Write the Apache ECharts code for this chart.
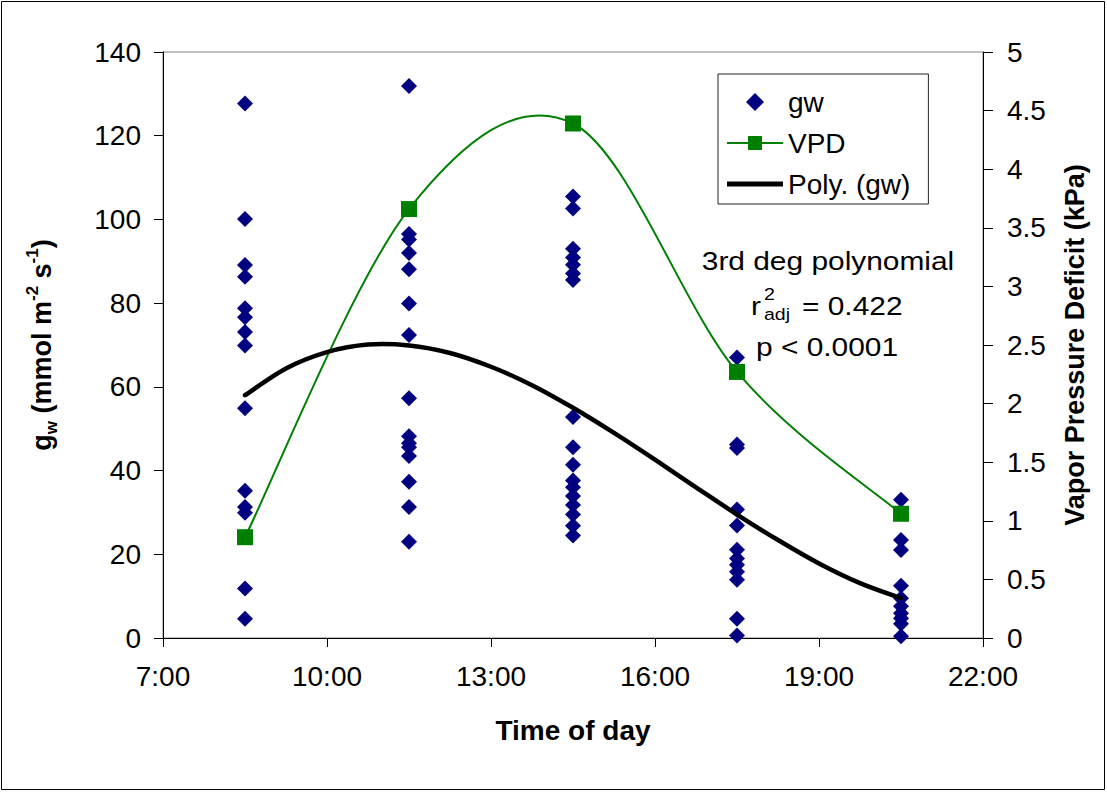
<!DOCTYPE html>
<html>
<head>
<meta charset="utf-8">
<script src="https://cdn.jsdelivr.net/npm/echarts@6/dist/echarts.min.js"></script>
<style>
  html, body { margin: 0; padding: 0; background: #fff; }
  #chart { width: 1107px; height: 793px; }
</style>
</head>
<body>
<div id="chart"></div>
<script>
// ---- data ----
const sampleTimes = [8.5, 11.5, 14.5, 17.5, 20.5];           // 8:30, 11:30, 14:30, 17:30, 20:30
const gw0830 = [127.7, 100.1, 89.1, 86.3, 78.8, 76.6, 73.1, 69.9, 54.9, 35.2, 31.3, 29.9, 11.8, 4.6];
const gw1130 = [131.9, 96.5, 95.2, 92.0, 88.1, 79.9, 72.4, 57.3, 48.2, 46.5, 45.6, 43.5, 37.3, 31.3, 23.0];
const gw1430 = [105.5, 102.6, 93.0, 90.9, 89.2, 87.1, 85.5, 52.8, 45.6, 41.4, 37.6, 36.0, 33.9, 31.8, 29.5, 26.8, 24.5];
const gw1730 = [67.0, 46.2, 45.4, 30.7, 26.9, 21.1, 19.0, 17.5, 15.8, 13.9, 4.6, 0.6];
const gw2030 = [33.0, 23.4, 21.0, 12.5, 9.5, 7.6, 5.9, 4.7, 3.4, 0.4];
const vpdValues = [0.86, 3.66, 4.39, 2.27, 1.06];             // kPa
const polyTimes = [8.5, 9.25, 10, 10.75, 11.5, 12.25, 13, 13.75, 14.5, 15.25, 16, 16.75, 17.5, 18.25, 19, 19.75, 20.5];
const polyValues = [58.0, 64.4, 68.3, 70.1, 69.9, 68.1, 64.8, 60.4, 55.0, 49.0, 42.6, 36.0, 29.5, 23.4, 17.8, 13.1, 9.5];
const xTicks = [7, 10, 13, 16, 19, 22];

// ---- build series data ----
const gwGroups = [gw0830, gw1130, gw1430, gw1730, gw2030];
const gwData = [];
gwGroups.forEach((g, i) => g.forEach(v => gwData.push([sampleTimes[i], v])));
const vpdData = sampleTimes.map((t, i) => [t, vpdValues[i]]);
const polyData = polyTimes.map((t, i) => [t, polyValues[i]]);

const FONT = '"Liberation Sans", Arial, Helvetica, sans-serif';

// Excel-style smoothed line (Catmull-Rom through the points, positions from api.coord)
function excelSmoothPath(points) {
  let d = 'M' + points[0][0] + ',' + points[0][1];
  for (let i = 0; i < points.length - 1; i++) {
    const p0 = points[i - 1] || points[i];
    const p1 = points[i];
    const p2 = points[i + 1];
    const p3 = points[i + 2] || points[i + 1];
    const c1x = p1[0] + (p2[0] - p0[0]) / 6, c1y = p1[1] + (p2[1] - p0[1]) / 6;
    const c2x = p2[0] - (p3[0] - p1[0]) / 6, c2y = p2[1] - (p3[1] - p1[1]) / 6;
    d += 'C' + c1x + ',' + c1y + ',' + c2x + ',' + c2y + ',' + p2[0] + ',' + p2[1];
  }
  return d;
}

function smoothCurveSeries(name, data, yAxisIndex, color, width, z) {
  return {
    name: name,
    type: 'custom',
    yAxisIndex: yAxisIndex,
    silent: true,
    data: data,
    z: z,
    itemStyle: { color: color },
    renderItem: (params, api) => {
      if (params.dataIndex !== 0) return null;
      const pts = data.map(d => api.coord(d));
      return {
        type: 'path',
        shape: { pathData: excelSmoothPath(pts) },
        style: { fill: 'none', stroke: color, lineWidth: width, lineCap: 'round', lineJoin: 'round' }
      };
    }
  };
}

const chart = echarts.init(document.getElementById('chart'), null, { renderer: 'svg' });

const option = {
  backgroundColor: '#fff',
  animation: false,
  textStyle: { fontFamily: FONT, color: '#000' },
  grid: {
    left: 163, right: 124, top: 52, bottom: 155,
    show: true, borderColor: '#808080', borderWidth: 1, backgroundColor: 'transparent'
  },
  legend: {
    orient: 'vertical',
    left: 718, top: 74,
    padding: [13, 18, 5, 9],
    itemGap: 11,
    itemWidth: 56,
    itemHeight: 18,
    symbolKeepAspect: true,
    borderColor: '#222',
    borderWidth: 1,
    backgroundColor: '#fff',
    textStyle: { fontFamily: FONT, fontSize: 28, color: '#000', lineHeight: 30 },
    data: [
      { name: 'gw', icon: 'path://M7,0L14,7L7,14L0,7Z' },
      { name: 'VPD', icon: 'path://M0,6H21V0H35V6H56V8H35V14H21V8H0Z' },
      { name: 'Poly. (gw)', icon: 'path://M0,0H56V5H0Z' }
    ]
  },
  xAxis: {
    type: 'value',
    min: xTicks[0], max: xTicks[xTicks.length - 1], interval: 3,
    name: 'Time of day',
    nameLocation: 'middle',
    nameGap: 78,
    nameTextStyle: { fontFamily: FONT, fontSize: 28, fontWeight: 'bold', color: '#000' },
    axisLine: { show: true, onZero: false, lineStyle: { color: '#000', width: 1 } },
    axisTick: { show: true, inside: false, length: 9, lineStyle: { color: '#000' } },
    axisLabel: { fontFamily: FONT, fontSize: 28, color: '#000', margin: 24,
                 formatter: v => v + ':00' },
    splitLine: { show: false }
  },
  yAxis: [
    {
      type: 'value', position: 'left',
      min: 0, max: 140, interval: 20,
      name: '{b|g}{sub|w}{b| (mmol m}{sup|-2}{b| s}{sup|-1}{b|)}',
      nameLocation: 'middle',
      nameRotate: 90,
      nameGap: 103,
      nameTextStyle: {
        fontFamily: FONT, color: '#000',
        rich: {
          b: { fontFamily: FONT, fontSize: 27, fontWeight: 'bold', color: '#000', lineHeight: 36, verticalAlign: 'middle' },
          sub: { fontFamily: FONT, fontSize: 17, fontWeight: 'bold', color: '#000', lineHeight: 17, verticalAlign: 'bottom' },
          sup: { fontFamily: FONT, fontSize: 17, fontWeight: 'bold', color: '#000', lineHeight: 17, verticalAlign: 'top' }
        }
      },
      axisLine: { show: true, lineStyle: { color: '#000', width: 1 } },
      axisTick: { show: true, inside: false, length: 9, lineStyle: { color: '#000' } },
      axisLabel: { fontFamily: FONT, fontSize: 28, color: '#000', margin: 22 },
      splitLine: { show: false }
    },
    {
      type: 'value', position: 'right',
      min: 0, max: 5, interval: 0.5,
      name: 'Vapor Pressure Deficit (kPa)',
      nameLocation: 'middle',
      nameRotate: 90,
      nameGap: 78,
      nameTextStyle: { fontFamily: FONT, fontSize: 27, fontWeight: 'bold', color: '#000' },
      axisLine: { show: true, lineStyle: { color: '#000', width: 1 } },
      axisTick: { show: true, inside: false, length: 10, lineStyle: { color: '#000' } },
      axisLabel: { fontFamily: FONT, fontSize: 28, color: '#000', margin: 24 },
      splitLine: { show: false }
    }
  ],
  series: [
    {
      name: 'gw',
      type: 'scatter',
      yAxisIndex: 0,
      symbol: 'diamond',
      symbolSize: 16,
      itemStyle: { color: '#000080', opacity: 1 },
      data: gwData,
      z: 2
    },
    smoothCurveSeries(undefined, vpdData, 1, '#008000', 2, 3),
    {
      name: 'VPD',
      type: 'line',
      yAxisIndex: 1,
      symbol: 'rect',
      symbolSize: 16,
      itemStyle: { color: '#008000', opacity: 1 },
      lineStyle: { color: '#008000', width: 0, opacity: 0 },
      data: vpdData,
      z: 4
    },
    smoothCurveSeries('Poly. (gw)', polyData, 0, '#000', 4.5, 5)
  ],
  graphic: [
    {
      type: 'rect', silent: true, z: 100,
      shape: { x: 1.5, y: 1.5, width: 1103, height: 788 },
      style: { fill: 'none', stroke: '#000', lineWidth: 1 }
    },
    {
      type: 'text', x: 828, y: 261, scaleX: 1.15, silent: true, z: 100,
      style: { text: '3rd deg polynomial', font: '26px ' + FONT, fill: '#000', align: 'center', verticalAlign: 'middle' }
    },
    {
      type: 'text', x: 751, y: 306, scaleX: 1.15, silent: true, z: 100,
      style: { text: 'r', font: '26px ' + FONT, fill: '#000', align: 'left', verticalAlign: 'middle' }
    },
    {
      type: 'text', x: 764, y: 294, scaleX: 1.15, silent: true, z: 100,
      style: { text: '2', font: '17px ' + FONT, fill: '#000', align: 'left', verticalAlign: 'middle' }
    },
    {
      type: 'text', x: 764, y: 314, scaleX: 1.15, silent: true, z: 100,
      style: { text: 'adj', font: '17px ' + FONT, fill: '#000', align: 'left', verticalAlign: 'middle' }
    },
    {
      type: 'text', x: 802, y: 306, scaleX: 1.15, silent: true, z: 100,
      style: { text: '= 0.422', font: '26px ' + FONT, fill: '#000', align: 'left', verticalAlign: 'middle' }
    },
    {
      type: 'text', x: 827, y: 347, scaleX: 1.15, silent: true, z: 100,
      style: { text: 'p < 0.0001', font: '26px ' + FONT, fill: '#000', align: 'center', verticalAlign: 'middle' }
    }
  ]
};

chart.setOption(option);
</script>
</body>
</html>
